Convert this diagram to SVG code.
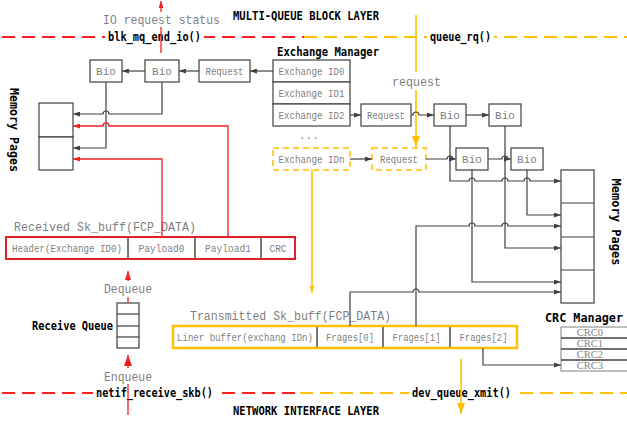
<svg xmlns="http://www.w3.org/2000/svg" width="627" height="421" viewBox="0 0 627 421">
<defs>
<style>
.g{font-family:"Liberation Mono",monospace;fill:#7f7f7f;font-size:11px}
.gc{font-family:"Liberation Mono",monospace;fill:#7f7f7f;font-size:11px;text-anchor:middle}
.gs{font-family:"Liberation Mono",monospace;fill:#7f7f7f;font-size:10px;text-anchor:middle}
.gl{font-family:"Liberation Mono",monospace;fill:#7f7f7f;font-size:13px}
.b{font-family:"DejaVu Sans Mono",monospace;font-weight:bold;fill:#000;font-size:12px}
.crc{font-family:"Liberation Serif",serif;fill:#7f7f7f;font-size:10.5px;text-anchor:middle}
.box{fill:#fff;stroke:#404040;stroke-width:1.2}
.ybox{fill:#fff;stroke:#ffc000;stroke-width:1.5;stroke-dasharray:6 4}
.ln{fill:none;stroke:#404040;stroke-width:1.2}
.rl{fill:none;stroke:#f02020;stroke-width:1.3}
.yl{fill:none;stroke:#ffc000;stroke-width:1.6}
.rd{fill:none;stroke:#ff2020;stroke-width:2;stroke-dasharray:13 7}
.yd{fill:none;stroke:#ffc000;stroke-width:2;stroke-dasharray:13 7}
.div{stroke:#555;stroke-width:1.6}
.wh{fill:#fff}
</style>
<marker id="ak" viewBox="0 0 7 5" refX="7" refY="2.5" markerWidth="7" markerHeight="5" orient="auto" markerUnits="userSpaceOnUse"><path d="M0,0L7,2.5L0,5z" fill="#404040"/></marker>
<marker id="ar" viewBox="0 0 7 5" refX="7" refY="2.5" markerWidth="7" markerHeight="5" orient="auto" markerUnits="userSpaceOnUse"><path d="M0,0L7,2.5L0,5z" fill="#f02020"/></marker>
<marker id="arb" viewBox="0 0 9 6" refX="9" refY="3" markerWidth="9" markerHeight="6" orient="auto" markerUnits="userSpaceOnUse"><path d="M0,0L9,3L0,6z" fill="#f02020"/></marker>
<marker id="arL" viewBox="0 0 11 8" refX="11" refY="4" markerWidth="11" markerHeight="8" orient="auto" markerUnits="userSpaceOnUse"><path d="M0,0L11,4L0,8z" fill="#f02020"/></marker>
<marker id="ay" viewBox="0 0 7 5" refX="7" refY="2.5" markerWidth="7" markerHeight="5" orient="auto" markerUnits="userSpaceOnUse"><path d="M0,0L7,2.5L0,5z" fill="#ffc000"/></marker>
<marker id="ayL" viewBox="0 0 11 8" refX="11" refY="4" markerWidth="11" markerHeight="8" orient="auto" markerUnits="userSpaceOnUse"><path d="M0,0L11,4L0,8z" fill="#ffc000"/></marker>
</defs>
<rect width="627" height="421" fill="#fff"/>

<g id="layer-top">
<line class="rd" x1="2" y1="37" x2="304" y2="37"/>
<line class="yd" x1="304" y1="37" x2="627" y2="37"/>
<rect class="wh" x="105" y="29" width="99" height="15"/>
<rect class="wh" x="427" y="29" width="67" height="15"/>
<text class="b" x="233" y="20" textLength="146" lengthAdjust="spacingAndGlyphs">MULTI-QUEUE BLOCK LAYER</text>
<text class="b" x="108" y="41" textLength="93" lengthAdjust="spacingAndGlyphs">blk_mq_end_io()</text>
<text class="b" x="430" y="41" textLength="61" lengthAdjust="spacingAndGlyphs">queue_rq()</text>
</g>

<g id="layer-bottom">
<line class="rd" x1="2" y1="393" x2="300" y2="393"/>
<line class="yd" x1="300" y1="393" x2="627" y2="393"/>
<rect class="wh" x="93" y="386" width="123" height="14"/>
<rect class="wh" x="409" y="386" width="105" height="14"/>
<text class="b" x="96" y="397" textLength="117" lengthAdjust="spacingAndGlyphs">netif_receive_skb()</text>
<text class="b" x="412" y="397" textLength="99" lengthAdjust="spacingAndGlyphs">dev_queue_xmit()</text>
<text class="b" x="233" y="415" textLength="146" lengthAdjust="spacingAndGlyphs">NETWORK INTERFACE LAYER</text>
</g>

<g id="io-status">
<path class="rl" d="M161 53V1" marker-end="url(#ar)"/>
<rect class="wh" x="101" y="12" width="121" height="15"/>
<text class="gl" x="103" y="24" textLength="117" lengthAdjust="spacingAndGlyphs">IO request status</text>
</g>

<g id="request-flow">
<path class="yl" d="M416 15V147" marker-end="url(#ayL)"/>
<rect class="wh" x="390" y="72" width="53" height="18"/>
<text class="gl" x="392" y="86" textLength="49" lengthAdjust="spacingAndGlyphs">request</text>
<path class="yl" d="M312 170V293" marker-end="url(#ay)"/>
<path class="yl" d="M461 359V414" marker-end="url(#ayL)"/>
</g>

<g id="memory-left">
<rect class="box" x="39" y="103" width="34" height="34"/>
<rect class="box" x="39" y="137" width="34" height="33"/>
<text class="b" transform="translate(14,130) rotate(90)" text-anchor="middle" dominant-baseline="central" textLength="84" lengthAdjust="spacingAndGlyphs">Memory Pages</text>
</g>

<g id="bio-l1"><rect class="box" x="90" y="60" width="32" height="22"/><text class="gc" x="106" y="75">Bio</text></g>
<g id="bio-l2"><rect class="box" x="145" y="60" width="34" height="22"/><text class="gc" x="162" y="75">Bio</text></g>
<g id="request-l"><rect class="box" x="199" y="60" width="51" height="22"/><text class="gc" x="224.5" y="75" textLength="38" lengthAdjust="spacingAndGlyphs">Request</text></g>

<g id="exchange-manager">
<text class="b" x="277" y="56" textLength="102" lengthAdjust="spacingAndGlyphs">Exchange Manager</text>
<rect class="box" x="273" y="60" width="77" height="22"/>
<rect class="box" x="273" y="82" width="77" height="22"/>
<rect class="box" x="273" y="104" width="77" height="22"/>
<text class="gc" x="311.5" y="75" textLength="66" lengthAdjust="spacingAndGlyphs">Exchange ID0</text>
<text class="gc" x="311.5" y="97" textLength="66" lengthAdjust="spacingAndGlyphs">Exchange ID1</text>
<text class="gc" x="311.5" y="119" textLength="66" lengthAdjust="spacingAndGlyphs">Exchange ID2</text>
<text class="g" x="299" y="139">...</text>
</g>
<g id="exchange-idn"><rect class="ybox" x="273" y="148" width="77" height="22"/><text class="gc" x="311.5" y="163" textLength="66" lengthAdjust="spacingAndGlyphs">Exchange IDn</text></g>

<g id="request-r1"><rect class="box" x="361" y="104" width="50" height="22"/><text class="gc" x="386" y="119" textLength="38" lengthAdjust="spacingAndGlyphs">Request</text></g>
<g id="request-rn"><rect class="ybox" x="372" y="148" width="54" height="22"/><text class="gc" x="399" y="163" textLength="38" lengthAdjust="spacingAndGlyphs">Request</text></g>
<g id="bio-r1"><rect class="box" x="434" y="104" width="32" height="22"/><text class="gc" x="450" y="119">Bio</text></g>
<g id="bio-r2"><rect class="box" x="489" y="104" width="32" height="22"/><text class="gc" x="505" y="119">Bio</text></g>
<g id="bio-r3"><rect class="box" x="456" y="148" width="32" height="22"/><text class="gc" x="472" y="163">Bio</text></g>
<g id="bio-r4"><rect class="box" x="511" y="148" width="32" height="22"/><text class="gc" x="527" y="163">Bio</text></g>

<g id="memory-right">
<rect class="box" x="561" y="170" width="33" height="133"/>
<line class="ln" x1="561" y1="203" x2="594" y2="203"/>
<line class="ln" x1="561" y1="237" x2="594" y2="237"/>
<line class="ln" x1="561" y1="270" x2="594" y2="270"/>
<text class="b" transform="translate(616,222) rotate(90)" text-anchor="middle" dominant-baseline="central" textLength="87" lengthAdjust="spacingAndGlyphs">Memory Pages</text>
</g>

<g id="received-skbuff">
<text class="gl" x="14" y="231" textLength="182" lengthAdjust="spacingAndGlyphs">Received Sk_buff(FCP_DATA)</text>
<rect x="6" y="237" width="289" height="22" fill="#fff" stroke="#e02028" stroke-width="2"/>
<line class="div" x1="128" y1="238" x2="128" y2="258"/>
<line class="div" x1="195" y1="238" x2="195" y2="258"/>
<line class="div" x1="261" y1="238" x2="261" y2="258"/>
<text class="gs" x="67" y="252" textLength="110" lengthAdjust="spacingAndGlyphs">Header(Exchange ID0)</text>
<text class="gs" x="161.5" y="252" textLength="46" lengthAdjust="spacingAndGlyphs">Payload0</text>
<text class="gs" x="228" y="252" textLength="46" lengthAdjust="spacingAndGlyphs">Payload1</text>
<text class="gs" x="278" y="252" textLength="17" lengthAdjust="spacingAndGlyphs">CRC</text>
</g>

<g id="receive-queue">
<rect class="box" x="117" y="303" width="22" height="45"/>
<line class="ln" x1="117" y1="314" x2="139" y2="314"/>
<line class="ln" x1="117" y1="326" x2="139" y2="326"/>
<line class="ln" x1="117" y1="337" x2="139" y2="337"/>
<text class="b" x="32" y="330" textLength="81" lengthAdjust="spacingAndGlyphs">Receive Queue</text>
<path class="rl" d="M128 303V271" marker-end="url(#arb)"/>
<rect class="wh" x="102" y="281" width="52" height="16"/>
<text class="gl" x="104" y="293" textLength="48" lengthAdjust="spacingAndGlyphs">Dequeue</text>
<path class="rl" d="M128 415V355" marker-end="url(#arL)"/>
<rect class="wh" x="102" y="368" width="52" height="16"/>
<text class="gl" x="104" y="381" textLength="48" lengthAdjust="spacingAndGlyphs">Enqueue</text>
</g>

<g id="transmitted-skbuff">
<text class="gl" x="190" y="320" textLength="201" lengthAdjust="spacingAndGlyphs">Transmitted Sk_buff(FCP_DATA)</text>
<rect x="173" y="326" width="344" height="22" fill="#fff" stroke="#ffc000" stroke-width="2.5"/>
<line class="div" x1="317" y1="327" x2="317" y2="347"/>
<line class="div" x1="383" y1="327" x2="383" y2="347"/>
<line class="div" x1="450" y1="327" x2="450" y2="347"/>
<text class="gs" x="245" y="341" textLength="136" lengthAdjust="spacingAndGlyphs">Liner buffer(exchang IDn)</text>
<text class="gs" x="350" y="341" textLength="48" lengthAdjust="spacingAndGlyphs">Frages[0]</text>
<text class="gs" x="416.5" y="341" textLength="48" lengthAdjust="spacingAndGlyphs">Frages[1]</text>
<text class="gs" x="483.5" y="341" textLength="48" lengthAdjust="spacingAndGlyphs">Frages[2]</text>
</g>

<g id="crc-manager">
<text class="b" x="545" y="322" textLength="78" lengthAdjust="spacingAndGlyphs">CRC Manager</text>
<rect x="561" y="327" width="70" height="44" fill="#fff" stroke="#808080" stroke-width="1"/>
<line x1="561" y1="338" x2="627" y2="338" stroke="#404040" stroke-width="1.5"/>
<line x1="561" y1="349" x2="627" y2="349" stroke="#404040" stroke-width="1.5"/>
<line x1="561" y1="360" x2="627" y2="360" stroke="#404040" stroke-width="1.5"/>
<text class="crc" x="590" y="336">CRC0</text>
<text class="crc" x="590" y="347">CRC1</text>
<text class="crc" x="590" y="358">CRC2</text>
<text class="crc" x="590" y="369">CRC3</text>
</g>

<g id="connectors">
<path class="ln" d="M273 71H250" marker-end="url(#ak)"/>
<path class="ln" d="M199 71H179" marker-end="url(#ak)"/>
<path class="ln" d="M145 71H122" marker-end="url(#ak)"/>
<path class="ln" d="M162 82V114H109a3 3 0 0 0 -6 0H73" marker-end="url(#ak)"/>
<path class="ln" d="M106 82V148H73" marker-end="url(#ak)"/>
<path class="rl" d="M228 236V126H109a3 3 0 0 0 -6 0H73" marker-end="url(#ar)"/>
<path class="rl" d="M162 236V159H73" marker-end="url(#ar)"/>
<path class="ln" d="M350 115H361" marker-end="url(#ak)"/>
<path class="ln" d="M411 115H413a3 3 0 0 1 6 0H434" marker-end="url(#ak)"/>
<path class="ln" d="M466 115H489" marker-end="url(#ak)"/>
<path class="ln" d="M350 159H372" marker-end="url(#ak)"/>
<path class="ln" d="M426 159H447a3 3 0 0 1 6 0H456" marker-end="url(#ak)"/>
<path class="ln" d="M488 159H502a3 3 0 0 1 6 0H511" marker-end="url(#ak)"/>
<path class="ln" d="M450 126V181H469a3 3 0 0 1 6 0H502a3 3 0 0 1 6 0H524a3 3 0 0 1 6 0H561" marker-end="url(#ak)"/>
<path class="ln" d="M527 170V215H561" marker-end="url(#ak)"/>
<path class="ln" d="M416 326V226H469a3 3 0 0 1 6 0H502a3 3 0 0 1 6 0H561" marker-end="url(#ak)"/>
<path class="ln" d="M505 126V248H561" marker-end="url(#ak)"/>
<path class="ln" d="M472 170V282H561" marker-end="url(#ak)"/>
<path class="ln" d="M350 326V292H413a3 3 0 0 1 6 0H561" marker-end="url(#ak)"/>
<path class="ln" d="M483 348V365H561" marker-end="url(#ak)"/>
</g>
</svg>
